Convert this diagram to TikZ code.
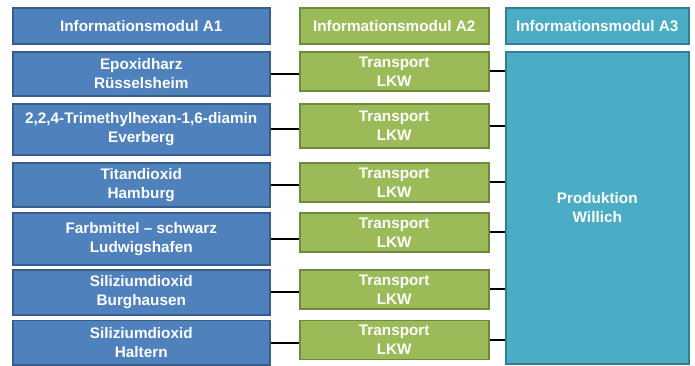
\documentclass[tikz,border=0pt]{standalone}
\usepackage{fontspec}
\setmainfont{Liberation Sans}
\definecolor{bluefill}{HTML}{4F81BD}
\definecolor{blueline}{HTML}{385D8A}
\definecolor{greenfill}{HTML}{9BBB59}
\definecolor{greenline}{HTML}{71893F}
\definecolor{tealfill}{HTML}{4BACC6}
\definecolor{tealline}{HTML}{357D91}
\begin{document}
\begin{tikzpicture}[x=1pt,y=1pt,
  box/.style={rectangle, anchor=north west, line width=1.5pt, inner sep=0pt,
    text=white, align=center, font=\fontsize{15.3}{19}\selectfont\bfseries},
  bluebox/.style={box, draw=blueline, fill=bluefill, minimum width=257pt},
  greenbox/.style={box, draw=greenline, fill=greenfill, minimum width=189pt},
  tealbox/.style={box, draw=tealline, fill=tealfill, minimum width=183pt},
  conn/.style={draw=black, line width=2pt}]
\useasboundingbox (0,0) rectangle (695,-365);
% headers
\node[bluebox, minimum height=36pt] (h1) at (12,-7) {Informationsmodul A1};
\node[greenbox, minimum height=36pt] (h2) at (299,-7) {Informationsmodul A2};
\node[tealbox, minimum height=36pt] (h3) at (505,-7) {Informationsmodul A3};
% A1
\node[bluebox, minimum height=44pt] (b1) at (12,-51) {Epoxidharz\\Rüsselsheim};
\node[bluebox, minimum height=51pt] (b2) at (12,-103) {2,2,4-Trimethylhexan-1,6-diamin\\Everberg};
\node[bluebox, minimum height=44pt] (b3) at (12,-162) {Titandioxid\\Hamburg};
\node[bluebox, minimum height=52pt] (b4) at (12,-212) {Farbmittel – schwarz\\Ludwigshafen};
\node[bluebox, minimum height=45pt] (b5) at (12,-269) {Siliziumdioxid\\Burghausen};
\node[bluebox, minimum height=44.5pt] (b6) at (12,-319.5) {Siliziumdioxid\\Haltern};
% A2
\node[greenbox, minimum height=39pt] (g1) at (299,-51) {Transport\\LKW};
\node[greenbox, minimum height=44pt] (g2) at (299,-103) {Transport\\LKW};
\node[greenbox, minimum height=39pt] (g3) at (299,-162) {Transport\\LKW};
\node[greenbox, minimum height=39pt] (g4) at (299,-212) {Transport\\LKW};
\node[greenbox, minimum height=39pt] (g5) at (299,-269) {Transport\\LKW};
\node[greenbox, minimum height=39pt] (g6) at (299,-319.5) {Transport\\LKW};
% A3
\node[tealbox, minimum height=312pt] (a3) at (505,-51) {Produktion\\Willich};
% connectors
\foreach \i in {1,...,6}{
  \draw[conn] (b\i.east) -- (b\i.east -| g\i.west);
  \draw[conn] (g\i.east) -- (g\i.east -| a3.west);
}
\end{tikzpicture}
\end{document}
